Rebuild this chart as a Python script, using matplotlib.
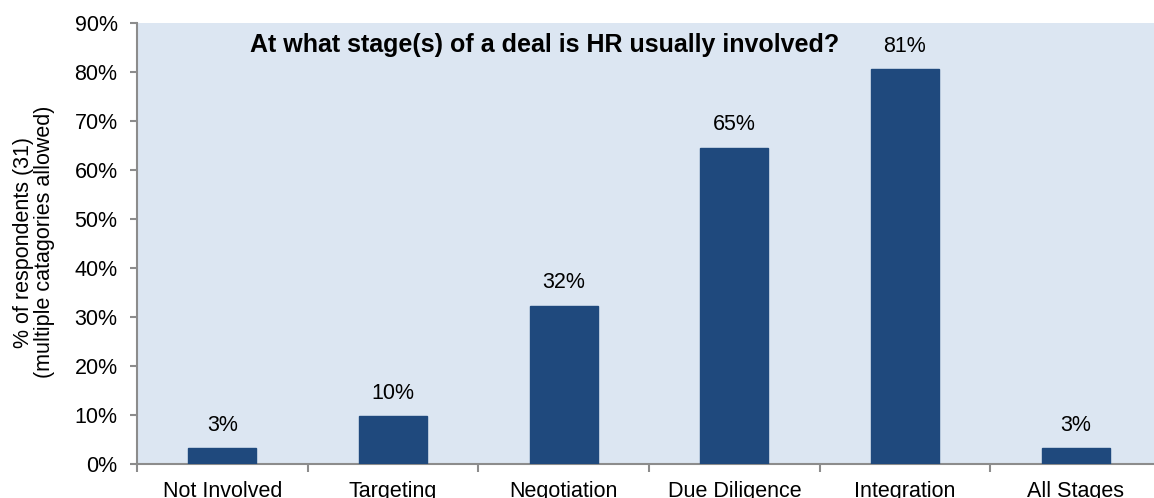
import matplotlib.pyplot as plt
import numpy as np

# Survey results: share of 31 respondents per deal stage
stages = ['Not Involved', 'Targeting', 'Negotiation', 'Due Diligence', 'Integration', 'All Stages']
share = [3.2, 9.7, 32.3, 64.5, 80.6, 3.2]
yticks = list(range(0, 91, 10))

plt.rcParams['font.family'] = ['Liberation Sans', 'DejaVu Sans']
fs = 15.5

fig = plt.figure(figsize=(11.54, 4.98), dpi=100)
ax = fig.add_axes([137 / 1154, 34 / 498, 1024 / 1154, 441 / 498])
ax.set_facecolor('#DCE6F2')

x = np.arange(len(stages))
bars = ax.bar(x, share, width=0.4, color='#1F497D', edgecolor='#1F497D', zorder=3)

# round half up, like the spreadsheet the figures came from
for xi, v in zip(x, share):
    ax.annotate(f'{int(v + 0.5)}%', (xi, v), xytext=(0, 9), textcoords='offset points',
                ha='center', va='bottom', fontsize=fs, color='black')

ax.set_xlim(-0.5, len(stages) - 0.5)
ax.set_ylim(0, 90)
ax.set_yticks(yticks)
ax.set_yticklabels([f'{t}%' for t in yticks], fontsize=fs)

# labels centred under bars, ticks between categories
ax.set_xticks(x)
ax.set_xticklabels(stages, fontsize=fs)
ax.tick_params(axis='x', length=0, pad=12)
ax.set_xticks(np.arange(-0.5, len(stages), 1), minor=True)
ax.tick_params(axis='x', which='minor', length=6, width=1.5, color='#8C8C8C', direction='out')
ax.tick_params(axis='y', length=5, width=1.5, color='#8C8C8C', pad=9)

for side in ['top', 'right']:
    ax.spines[side].set_visible(False)
for side in ['left', 'bottom']:
    ax.spines[side].set_color('#8C8C8C')
    ax.spines[side].set_linewidth(1.5)

ax.set_ylabel('% of respondents (31)\n(multiple catagories allowed)', fontsize=fs,
              linespacing=1.0)
ax.yaxis.label.set_va('center')
ax.yaxis.set_label_coords((34 - 137) / 1024, (464 - 242) / 441)

ax.text(0.398, 0.95, 'At what stage(s) of a deal is HR usually involved?',
        transform=ax.transAxes, ha='center', va='center', fontsize=18, fontweight='bold')

fig.savefig('out.png', dpi=100)
